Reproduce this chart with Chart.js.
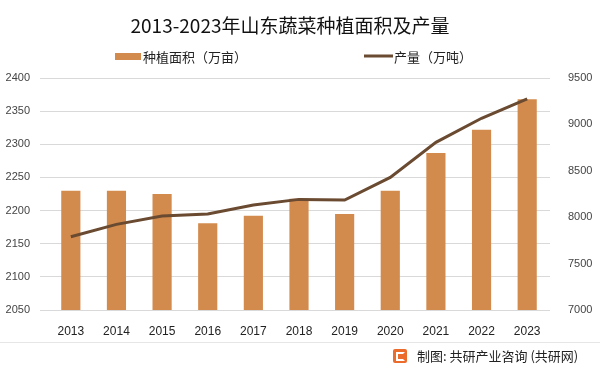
<!DOCTYPE html>
<html>
<head>
<meta charset="utf-8">
<title>山东蔬菜种植面积及产量</title>
<script src="https://cdn.jsdelivr.net/npm/chart.js"></script>
<style>
  body { margin: 0; background: #fff; font-family: "Noto Sans CJK SC", "Noto Sans", sans-serif; }
  #wrap { position: relative; width: 600px; height: 375px; }
  #title { position: absolute; left: 0; top: 11px; width: 580px; text-align: center; font-size: 19px; color: #111; }
  #divider { position: absolute; left: 0; top: 342px; width: 600px; height: 1px; background: #e6e6e6; }
  #footer { position: absolute; left: 393px; top: 346px; font-size: 13px; color: #222; display: flex; align-items: center; }
  #logo { width: 14px; height: 14px; background: #ec6c2c; border-radius: 2px; margin-right: 10px; position: relative; }
  #logo::after { content: ""; position: absolute; left: 3px; top: 3px; width: 5px; height: 5px; border: 2px solid #fff; border-right-color: transparent; }
</style>
</head>
<body>
<div id="wrap">
  <canvas id="chart" width="600" height="375"></canvas>
  <div id="title">2013-2023年山东蔬菜种植面积及产量</div>
  <div id="divider"></div>
  <div id="footer"><div id="logo"></div>制图: 共研产业咨询 (共研网)</div>
</div>
<script>
const years = ['2013', '2014', '2015', '2016', '2017', '2018', '2019', '2020', '2021', '2022', '2023'];
const area = [2230, 2230, 2225, 2181, 2192, 2218, 2195, 2230, 2287, 2322, 2368];
const output = [7790, 7923, 8013, 8034, 8131, 8192, 8185, 8429, 8807, 9066, 9274];

const barColor = '#d38b4d';
const lineColor = '#6a4a30';

// legend drawn by hand so the two items sit far apart like the original
const sideLegend = {
    id: 'sideLegend',
    afterDraw(chart) {
        const ctx = chart.ctx;
        ctx.save();
        ctx.font = '13px "Noto Sans CJK SC", sans-serif';
        ctx.textBaseline = 'middle';
        ctx.fillStyle = barColor;
        ctx.fillRect(115, 53, 26, 7);
        ctx.fillStyle = '#222';
        ctx.fillText(chart.data.datasets[1].label, 143, 57);
        ctx.strokeStyle = lineColor;
        ctx.lineWidth = 3;
        ctx.beginPath();
        ctx.moveTo(364, 56);
        ctx.lineTo(393, 56);
        ctx.stroke();
        ctx.fillText(chart.data.datasets[0].label, 394, 57);
        ctx.restore();
    }
};

new Chart(document.getElementById('chart'), {
    data: {
        labels: years,
        datasets: [{
            type: 'line',
            label: '产量（万吨）',
            data: output,
            yAxisID: 'y2',
            borderColor: lineColor,
            borderWidth: 3,
            pointRadius: 0,
            tension: 0,
            order: 0
        }, {
            type: 'bar',
            label: '种植面积（万亩）',
            data: area,
            yAxisID: 'y',
            backgroundColor: barColor,
            barPercentage: 0.42,
            categoryPercentage: 1,
            order: 1
        }]
    },
    options: {
        responsive: false,
        animation: false,
        layout: { padding: { top: 78, bottom: 35, left: 0, right: 0 } },
        plugins: { legend: { display: false }, title: { display: false }, tooltip: { enabled: false } },
        scales: {
            x: {
                grid: { display: false },
                border: { display: false },
                ticks: { color: '#222', font: { size: 12 }, padding: 6 },
                afterFit(s) { s.height = 30; }
            },
            y: {
                position: 'left',
                min: 2050,
                max: 2400,
                ticks: { stepSize: 50, color: '#444', font: { size: 11 }, padding: 10, callback: v => String(v) },
                grid: { color: '#d9d9d9' },
                border: { display: false },
                afterFit(s) { s.width = 48; }
            },
            y2: {
                position: 'right',
                min: 7000,
                max: 9500,
                ticks: { stepSize: 500, color: '#444', font: { size: 11 }, padding: 10, callback: v => String(v) },
                grid: { display: false },
                border: { display: false },
                afterFit(s) { s.width = 50; }
            }
        }
    },
    plugins: [sideLegend]
});
</script>
</body>
</html>
